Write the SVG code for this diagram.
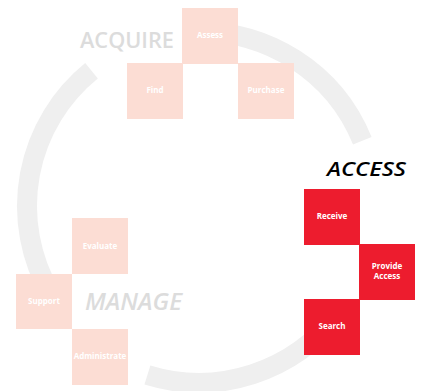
<svg xmlns="http://www.w3.org/2000/svg" width="425" height="391" viewBox="0 0 425 391">
<style>
.ring{fill:none;stroke:#efefef;stroke-width:20}
.lt{fill:#fcddd4}
.rd{fill:#ed1c2e}
.bt{font-family:"Open Sans","Liberation Sans",sans-serif;font-weight:bold;font-size:8px;fill:#ffffff;text-anchor:middle}
.hd{font-family:"Open Sans","Liberation Sans",sans-serif;font-weight:600}
</style>
<rect width="425" height="391" fill="#ffffff"/>
<g id="connectors">
<path class="ring" d="M191.9,32.2 A174,174 0 0 1 362.3,140.8"/>
<path class="ring" d="M91.5,70.8 A174,174 0 0 0 50.3,293"/>
<path class="ring" d="M147.4,375 A174,174 0 0 0 338.1,313.1"/>
</g>
<g id="acquire-label"><text class="hd" x="80" y="48" font-size="22" fill="#dcdcdc" textLength="94" lengthAdjust="spacingAndGlyphs">ACQUIRE</text></g>
<g id="access-label"><text class="hd" x="327" y="176" font-size="20" fill="#000000" font-style="italic" textLength="79" lengthAdjust="spacingAndGlyphs">ACCESS</text></g>
<g id="manage-label"><text class="hd" x="85" y="310" font-size="23" fill="#dcdcdc" font-style="italic" textLength="97" lengthAdjust="spacingAndGlyphs">MANAGE</text></g>
<g id="assess"><rect class="lt" x="182" y="8" width="56" height="56"/><text class="bt" x="210" y="38">Assess</text></g>
<g id="find"><rect class="lt" x="127" y="63" width="56" height="56"/><text class="bt" x="155" y="93">Find</text></g>
<g id="purchase"><rect class="lt" x="238" y="63" width="56" height="56"/><text class="bt" x="266" y="93">Purchase</text></g>
<g id="receive"><rect class="rd" x="304" y="189" width="56" height="56"/><text class="bt" x="332" y="219">Receive</text></g>
<g id="provide-access"><rect class="rd" x="359" y="244" width="56" height="56"/><text class="bt" x="387" y="269" font-size="7.5">Provide</text><text class="bt" x="387" y="279" font-size="7.5">Access</text></g>
<g id="search"><rect class="rd" x="304" y="299" width="56" height="56"/><text class="bt" x="332" y="329">Search</text></g>
<g id="evaluate"><rect class="lt" x="72" y="218" width="56" height="56"/><text class="bt" x="100" y="249">Evaluate</text></g>
<g id="support"><rect class="lt" x="16" y="274" width="56" height="55"/><text class="bt" x="44" y="304">Support</text></g>
<g id="administrate"><rect class="lt" x="72" y="329" width="56" height="56"/><text class="bt" x="100" y="359">Administrate</text></g>
</svg>
